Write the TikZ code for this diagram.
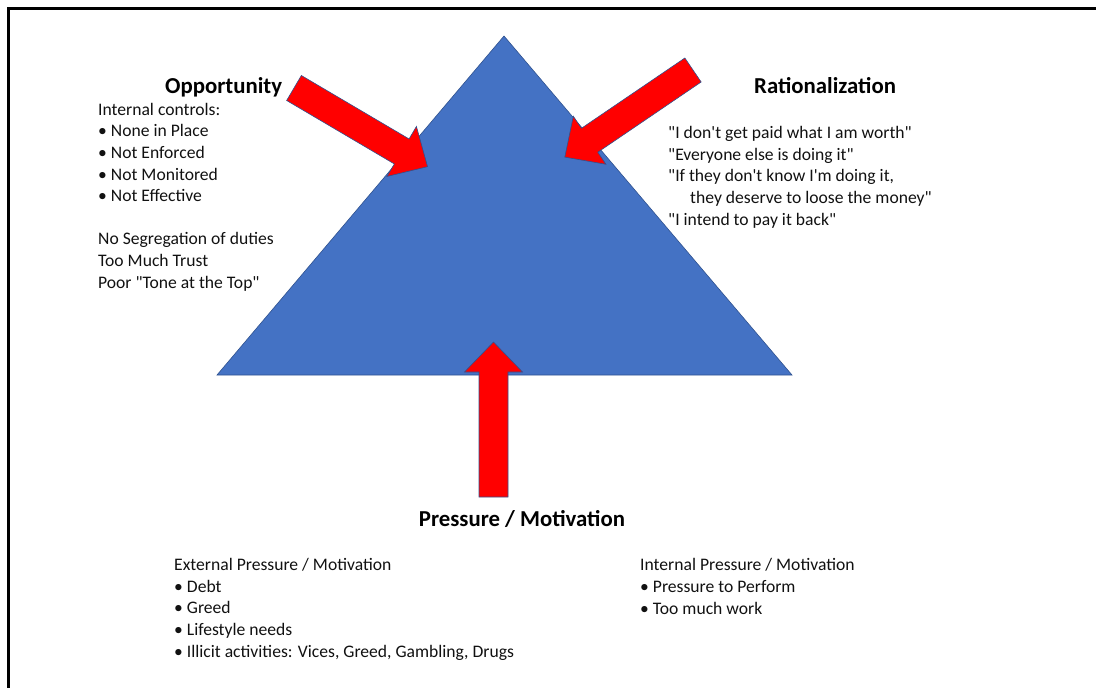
\documentclass[tikz,border=0pt]{standalone}
\usepackage{fontspec}
\setmainfont{Carlito}[Ligatures=TeXOff]
\usepackage{xcolor}
\definecolor{triblue}{HTML}{4472C4}
\definecolor{triedge}{HTML}{2F528F}
\definecolor{arrred}{HTML}{FF0000}
\definecolor{txtdark}{HTML}{111111}

\begin{document}
\begin{tikzpicture}[x=1pt,y=-1pt]

\tikzset{
t/.style={font=\fontsize{22.8}{26}\selectfont\bfseries, inner sep=0pt, anchor=base west},
% multi-line lists sit on the baseline of their last line
l/.style={font=\fontsize{17.6}{21.6}\selectfont, inner sep=0pt, align=left, anchor=base west, text=txtdark},
blockarrow/.pic={
  \draw[fill=arrred, draw=triedge, line width=0.6pt]
    (0,-14.5) -- (125,-14.5) -- (125,-29) -- (155,0) -- (125,29) -- (125,14.5) -- (0,14.5) -- cycle;
}
}

\useasboundingbox (0,0) rectangle (1096,688);
\draw[line width=3pt] (8,688) -- (8,8) -- (1096,8);

% triangle
\coordinate (apex) at (504,36);
\coordinate (baseL) at (217,375);
\coordinate (baseR) at (792,375);
\filldraw[fill=triblue, draw=triedge, line width=0.6pt] (apex) -- (baseL) -- (baseR) -- cycle;

% arrows into the triangle
\pic[rotate=-30.5] at (294,88) {blockarrow};
\pic[rotate=-145.8] at (693,70) {blockarrow};
\pic[rotate=90] at (493.5,497) {blockarrow};

\node[t] (opptitle) at (165,93) {Opportunity};
\node[l] (opplist) at (98,288) {Internal controls:\\• None in Place\\• Not Enforced\\• Not Monitored\\• Not Effective\\[21.6pt]No Segregation of duties\\Too Much Trust\\Poor "Tone at the Top"};

\node[t] (rattitle) at (754,93) {Rationalization};
\node[l] (ratlist) at (668,225) {"I don't get paid what I am worth"\\"Everyone else is doing it"\\"If they don't know I'm doing it,\\\hspace*{22pt}they deserve to loose the money"\\"I intend to pay it back"};

\node[t, anchor=base] (prtitle) at (522,526) {Pressure / Motivation};
\node[l] (extlist) at (174,657) {External Pressure / Motivation\\• Debt\\• Greed\\• Lifestyle needs\\• Illicit activities: Vices, Greed, Gambling, Drugs};
\node[l] (intlist) at (640,614) {Internal Pressure / Motivation\\• Pressure to Perform\\• Too much work};

\end{tikzpicture}
\end{document}
